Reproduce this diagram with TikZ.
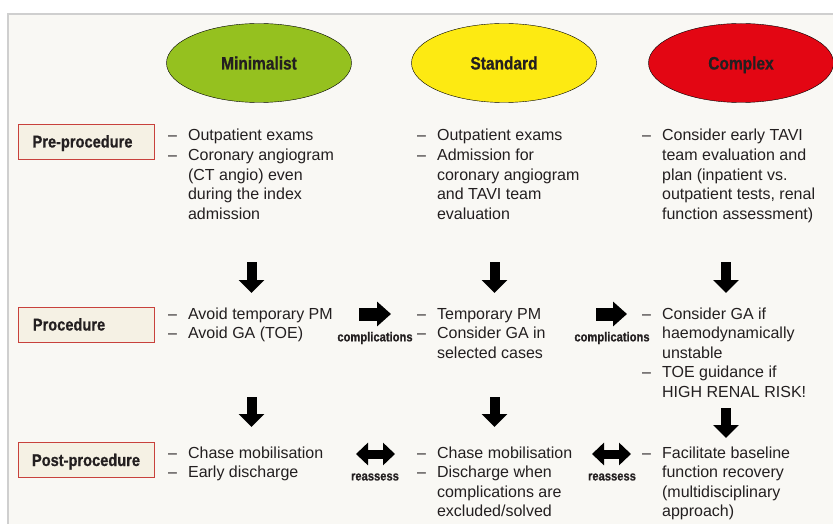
\documentclass[tikz,border=0pt]{standalone}
\usepackage{fontspec}
\setmainfont{Liberation Sans}
\newfontfamily\condfont[FakeStretch=0.86,BoldFeatures={FakeBold=0.7}]{Liberation Sans}
\usepackage{xcolor}
\usepackage{tikz}
\usetikzlibrary{shapes.geometric,arrows.meta}

\definecolor{panelbg}{HTML}{F9F8F4}
\definecolor{panelrule}{HTML}{CFCFCF}
\definecolor{boxbg}{HTML}{F5F1E4}
\definecolor{boxrule}{HTML}{C8413C}
\definecolor{minigreen}{HTML}{95C11F}
\definecolor{stdyellow}{HTML}{FDEA12}
\definecolor{cplxred}{HTML}{E30613}
\definecolor{txt}{HTML}{231F20}

% dash list, one row per printed line
\newcommand{\dashlist}[1]{\begin{tabular}[t]{@{}l@{\hspace{11pt}}l@{}}#1\end{tabular}}

\begin{document}
\begin{tikzpicture}[
        x=1pt, y=-1pt,
        every node/.append style={text=txt}
    ]
    \tikzstyle{grp}=[draw=black,shape=ellipse,minimum width=185pt,minimum height=79pt,inner sep=0pt,text height=13pt,text depth=0pt,font=\condfont\bfseries\fontsize{18}{20}\selectfont];
    \tikzstyle{stage}=[draw=boxrule,fill=boxbg,line width=0.8pt,minimum width=136pt,minimum height=35pt,inner sep=0pt,text height=12pt,text depth=0pt,font=\condfont\bfseries\fontsize{17}{19}\selectfont];
    \tikzstyle{items}=[anchor=base west,inner sep=0pt,font=\fontsize{16}{19.6}\selectfont];
    \tikzstyle{tag}=[inner sep=0pt,font=\condfont\bfseries\fontsize{13}{15}\selectfont];
    \tikzstyle{down}=[line width=10pt,-{Triangle[width=25pt,length=13pt]}];
    \tikzstyle{side}=[line width=13pt,-{Triangle[width=24pt,length=14pt]}];
    \tikzstyle{both}=[line width=9pt,{Triangle[width=22pt,length=12pt]}-{Triangle[width=22pt,length=12pt]}];
    \useasboundingbox (0,0) rectangle (833,524);
    \fill[white] (0,0) rectangle (833,524);
    \draw[panelrule,fill=panelbg,line width=1.5pt] (8,14) rectangle (850,540);
    % groups
    \node[grp,fill=minigreen] (mini) at (259,63) {Minimalist};
    \node[grp,fill=stdyellow] (std) at (504,63) {Standard};
    \node[grp,fill=cplxred] (cplx) at (741,63) {Complex};
    % stages
    \node[stage] (pre) at (86,141.5) {\hspace*{-7pt}Pre-procedure};
    \node[stage] (proc) at (86,324.5) {\hspace*{-34pt}Procedure};
    \node[stage] (post) at (86,460) {Post-procedure};
    % pre-procedure
    \node[items] (preA) at (168,141) {\dashlist{
        – & Outpatient exams\\
        – & Coronary angiogram\\
          & (CT angio) even\\
          & during the index\\
          & admission}};
    \node[items] (preB) at (417,141) {\dashlist{
        – & Outpatient exams\\
        – & Admission for\\
          & coronary angiogram\\
          & and TAVI team\\
          & evaluation}};
    \node[items] (preC) at (642,141) {\dashlist{
        – & Consider early TAVI\\
          & team evaluation and\\
          & plan (inpatient vs.\\
          & outpatient tests, renal\\
          & function assessment)}};
    % procedure
    \node[items] (procA) at (168,319) {\dashlist{
        – & Avoid temporary PM\\
        – & Avoid GA (TOE)}};
    \node[items] (procB) at (417,319) {\dashlist{
        – & Temporary PM\\
        – & Consider GA in\\
          & selected cases}};
    \node[items] (procC) at (642,319) {\dashlist{
        – & Consider GA if\\
          & haemodynamically\\
          & unstable\\
        – & TOE guidance if\\
          & HIGH RENAL RISK!}};
    % post-procedure
    \node[items] (postA) at (168,458) {\dashlist{
        – & Chase mobilisation\\
        – & Early discharge}};
    \node[items] (postB) at (417,458) {\dashlist{
        – & Chase mobilisation\\
        – & Discharge when\\
          & complications are\\
          & excluded/solved}};
    \node[items] (postC) at (642,458) {\dashlist{
        – & Facilitate baseline\\
          & function recovery\\
          & (multidisciplinary\\
          & approach)}};
    % down arrows
    \coordinate (dA1) at (251.5,262); \coordinate (dA2) at (251.5,293);
    \coordinate (dB1) at (494.5,262); \coordinate (dB2) at (494.5,293);
    \coordinate (dC1) at (726,262);   \coordinate (dC2) at (726,293);
    \coordinate (dA3) at (251.5,397); \coordinate (dA4) at (251.5,427);
    \coordinate (dB3) at (494.5,397); \coordinate (dB4) at (494.5,427);
    \coordinate (dC3) at (726,408);   \coordinate (dC4) at (726,438);
    \draw[down] (dA1) -- (dA2);
    \draw[down] (dB1) -- (dB2);
    \draw[down] (dC1) -- (dC2);
    \draw[down] (dA3) -- (dA4);
    \draw[down] (dB3) -- (dB4);
    \draw[down] (dC3) -- (dC4);
    % complications
    \coordinate (cAB1) at (359,314); \coordinate (cAB2) at (391,314);
    \coordinate (cBC1) at (596,314); \coordinate (cBC2) at (627,314);
    \draw[side] (cAB1) -- (cAB2);
    \draw[side] (cBC1) -- (cBC2);
    \node[tag] (compAB) at (375,338) {complications};
    \node[tag] (compBC) at (612,338) {complications};
    % reassess
    \coordinate (rAB1) at (356,454); \coordinate (rAB2) at (395,454);
    \coordinate (rBC1) at (592,454); \coordinate (rBC2) at (631,454);
    \draw[both] (rAB1) -- (rAB2);
    \draw[both] (rBC1) -- (rBC2);
    \node[tag] (reAB) at (375,477) {reassess};
    \node[tag] (reBC) at (612,477) {reassess};
\end{tikzpicture}
\end{document}
